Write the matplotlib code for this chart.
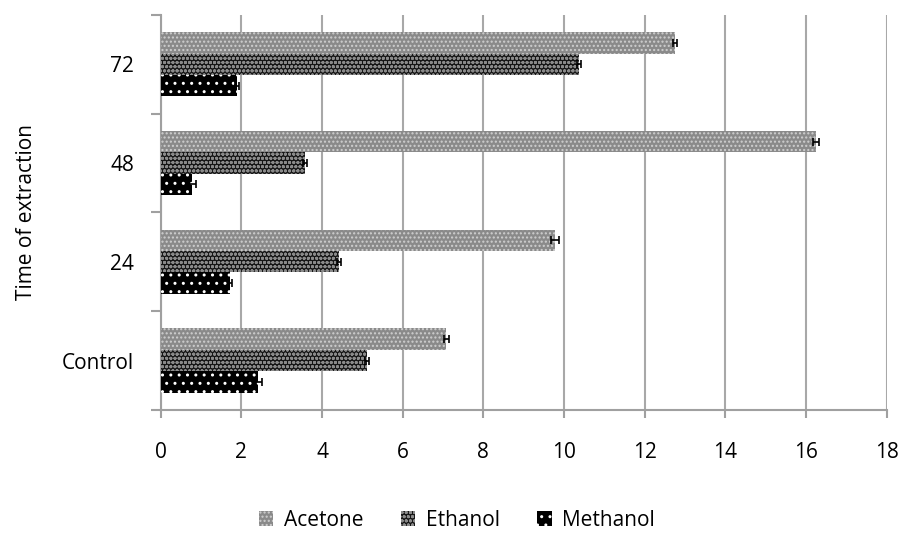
import numpy as np
import matplotlib
matplotlib.use("Agg")
from matplotlib import pyplot as plt

plt.rcParams['font.family'] = ['Open Sans', 'DejaVu Sans']
plt.rcParams['hatch.linewidth'] = 1.0

groups = ["Control", "24", "48", "72"]
series = ["Acetone", "Ethanol", "Methanol"]
acetone = [7.08, 9.78, 16.25, 12.75]
ethanol = [5.12, 4.43, 3.57, 10.37]
methanol = [2.4, 1.72, 0.77, 1.9]
acetone_err = [0.06, 0.1, 0.07, 0.06]
ethanol_err = [0.05, 0.05, 0.05, 0.05]
methanol_err = [0.1, 0.05, 0.1, 0.05]

values = [acetone, ethanol, methanol]
errors = [acetone_err, ethanol_err, methanol_err]
faces = ["#8a8a8a", "#161616", "#000000"]
hatches = ["....", "oooo", ".."]
hcolors = ["#cfcfcf", "#8a8a8a", "#ffffff"]

fig = plt.figure(figsize=(9.03, 5.33), dpi=100)
ax = fig.add_axes([0.178, 0.231, 0.804, 0.741])

h = 0.217
y = np.arange(len(groups))
for i in range(3):
    pos = y + (1 - i) * h
    ax.barh(pos, values[i], height=h, color=faces[i], hatch=hatches[i],
            edgecolor=hcolors[i], linewidth=0, label=series[i], zorder=3)
    ax.errorbar(values[i], pos, xerr=errors[i], fmt="none", ecolor="black",
                elinewidth=1.2, capsize=3, capthick=1.2, zorder=4)

ax.set_xlim(0, 18)
ax.set_ylim(-0.5, 3.5)
ax.set_xticks(np.arange(0, 19, 2))
ax.set_yticks(y)
ax.set_yticklabels(groups)
ax.set_yticks(np.arange(-0.5, 3.6, 1), minor=True)
ax.tick_params(axis="y", which="major", length=0, labelsize=15, pad=19)
ax.tick_params(axis="y", which="minor", length=7, color="#a0a0a0", width=1.5)
ax.tick_params(axis="x", which="major", length=6, color="#a0a0a0", width=1.5,
               labelsize=15, direction="out", pad=17)
ax.xaxis.grid(True, color="#a8a8a8", linewidth=1.5, zorder=0)
for s in ["top", "right"]:
    ax.spines[s].set_visible(False)
for s in ["left", "bottom"]:
    ax.spines[s].set_color("#a0a0a0")
    ax.spines[s].set_linewidth(1.5)
ax.set_ylabel("Time of extraction", fontsize=15, labelpad=18)

ax.legend(loc="center", bbox_to_anchor=(0.408, -0.28), ncol=3, frameon=False,
          fontsize=15, handlelength=0.7, handleheight=0.7, handletextpad=0.5,
          columnspacing=1.8)

fig.savefig("out.png", dpi=100)
